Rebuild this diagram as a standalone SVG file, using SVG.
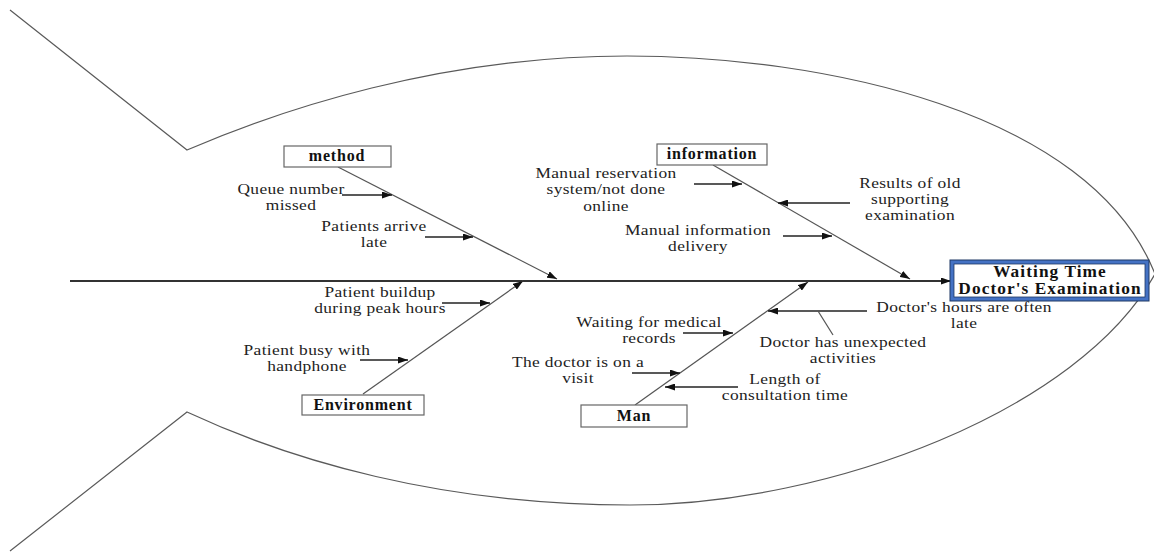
<svg xmlns="http://www.w3.org/2000/svg" width="1154" height="552" viewBox="0 0 1154 552">
<style>
.outline{fill:none;stroke:#5a5a5a;stroke-width:1.2}
.spine{fill:none;stroke:#333;stroke-width:2.2}
.bone{fill:none;stroke:#555;stroke-width:1.2}
.sub{fill:none;stroke:#222;stroke-width:1.5}
.cat{fill:#fff;stroke:#666;stroke-width:1.2}
.lbl{font-family:"Liberation Serif","Times New Roman",serif;font-size:14.5px;letter-spacing:0.3px;fill:#222;text-anchor:middle}
.catt{font-family:"Liberation Serif","Times New Roman",serif;font-size:16px;font-weight:bold;letter-spacing:0.8px;fill:#111;text-anchor:middle}
.head{font-family:"Liberation Serif","Times New Roman",serif;font-size:16px;font-weight:bold;letter-spacing:1px;fill:#111;text-anchor:middle}
</style>
<defs>
<marker id="ah" markerUnits="userSpaceOnUse" markerWidth="11" markerHeight="7" refX="10" refY="3.5" orient="auto">
<path d="M0,0 L10,3.5 L0,7 z" fill="#111"/>
</marker>
</defs>
<rect width="1154" height="552" fill="#fff"/>
<g id="fish">
<path class="outline" d="M10,10 L187,150 C280,110 440,56 627,56 C820,56 1090,110 1155,274"/>
<path class="outline" d="M10,551 L187,412 C290,460 440,505 630,505 C830,505 1080,410 1155,274"/>
</g>
<g id="connectors">
<line class="spine" x1="70" y1="281" x2="951" y2="281" marker-end="url(#ah)"/>
<line class="bone" x1="338" y1="167" x2="557" y2="279" marker-end="url(#ah)"/>
<line class="bone" x1="713" y1="165" x2="910" y2="279" marker-end="url(#ah)"/>
<line class="bone" x1="363" y1="394" x2="523" y2="281" marker-end="url(#ah)"/>
<line class="bone" x1="635" y1="405" x2="808" y2="282" marker-end="url(#ah)"/>
<line class="sub" x1="342" y1="195" x2="392" y2="195" marker-end="url(#ah)"/>
<line class="sub" x1="425" y1="237" x2="473" y2="237" marker-end="url(#ah)"/>
<line class="sub" x1="694" y1="184" x2="742" y2="184" marker-end="url(#ah)"/>
<line class="sub" x1="850" y1="203" x2="778" y2="203" marker-end="url(#ah)"/>
<line class="sub" x1="783" y1="236" x2="832" y2="236" marker-end="url(#ah)"/>
<line class="sub" x1="442" y1="303" x2="490" y2="303" marker-end="url(#ah)"/>
<line class="sub" x1="360" y1="360" x2="408" y2="360" marker-end="url(#ah)"/>
<line class="sub" x1="683" y1="333" x2="733" y2="333" marker-end="url(#ah)"/>
<line class="sub" x1="632" y1="373" x2="680" y2="373" marker-end="url(#ah)"/>
<line class="sub" x1="738" y1="387" x2="665" y2="387" marker-end="url(#ah)"/>
<line class="sub" x1="867" y1="311" x2="768" y2="311" marker-end="url(#ah)"/>
<line class="bone" x1="833" y1="335" x2="818" y2="311"/>
</g>
<g id="effect">
<rect x="952" y="262" width="195" height="37" fill="#fff" stroke="#4472C4" stroke-width="4"/>
<rect x="950" y="260" width="199" height="41" fill="none" stroke="#1F3864" stroke-width="1"/>
<rect x="954" y="264" width="191" height="33" fill="none" stroke="#1F3864" stroke-width="0.8"/>
<g transform="translate(1050,0) scale(1.08,1)">
<text class="head" x="0" y="277">Waiting Time</text>
<text class="head" x="0" y="294">Doctor's Examination</text>
</g>
</g>
<g id="cat-method">
<rect class="cat" x="284" y="146" width="107" height="21"/>
<text class="catt" x="337" y="161">method</text>
</g>
<g id="cat-information">
<rect class="cat" x="657" y="144" width="110" height="21"/>
<text class="catt" x="712" y="159">information</text>
</g>
<g id="cat-environment">
<rect class="cat" x="302" y="395" width="122" height="20"/>
<text class="catt" x="363" y="410">Environment</text>
</g>
<g id="cat-man">
<rect class="cat" x="581" y="405" width="106" height="22"/>
<text class="catt" x="634" y="421">Man</text>
</g>
<g id="cause-queue" transform="translate(291,0) scale(1.2,1)"><text class="lbl" x="0" y="194">Queue number</text><text class="lbl" x="0" y="210">missed</text></g>
<g id="cause-late" transform="translate(374,0) scale(1.2,1)"><text class="lbl" x="0" y="231">Patients arrive</text><text class="lbl" x="0" y="247">late</text></g>
<g id="cause-reservation" transform="translate(606,0) scale(1.2,1)"><text class="lbl" x="0" y="178">Manual reservation</text><text class="lbl" x="0" y="194">system/not done</text><text class="lbl" x="0" y="211">online</text></g>
<g id="cause-results" transform="translate(910,0) scale(1.2,1)"><text class="lbl" x="0" y="188">Results of old</text><text class="lbl" x="0" y="204">supporting</text><text class="lbl" x="0" y="220">examination</text></g>
<g id="cause-delivery" transform="translate(698,0) scale(1.2,1)"><text class="lbl" x="0" y="235">Manual information</text><text class="lbl" x="0" y="251">delivery</text></g>
<g id="cause-buildup" transform="translate(380,0) scale(1.2,1)"><text class="lbl" x="0" y="297">Patient buildup</text><text class="lbl" x="0" y="313">during peak hours</text></g>
<g id="cause-handphone" transform="translate(307,0) scale(1.2,1)"><text class="lbl" x="0" y="355">Patient busy with</text><text class="lbl" x="0" y="371">handphone</text></g>
<g id="cause-records" transform="translate(649,0) scale(1.2,1)"><text class="lbl" x="0" y="327">Waiting for medical</text><text class="lbl" x="0" y="343">records</text></g>
<g id="cause-visit" transform="translate(578,0) scale(1.2,1)"><text class="lbl" x="0" y="367">The doctor is on a</text><text class="lbl" x="0" y="383">visit</text></g>
<g id="cause-consult" transform="translate(785,0) scale(1.2,1)"><text class="lbl" x="0" y="384">Length of</text><text class="lbl" x="0" y="400">consultation time</text></g>
<g id="cause-hours" transform="translate(964,0) scale(1.2,1)"><text class="lbl" x="0" y="312">Doctor's hours are often</text><text class="lbl" x="0" y="328">late</text></g>
<g id="cause-unexpected" transform="translate(843,0) scale(1.2,1)"><text class="lbl" x="0" y="347">Doctor has unexpected</text><text class="lbl" x="0" y="363">activities</text></g>
</svg>
